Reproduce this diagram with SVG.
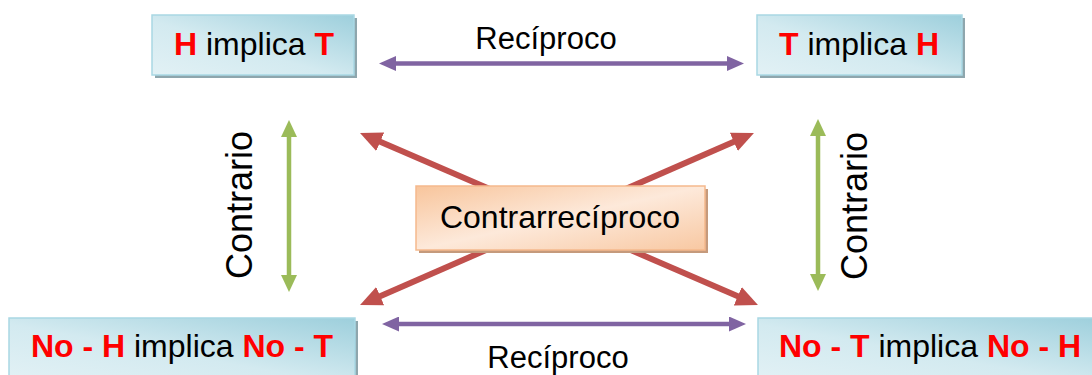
<svg xmlns="http://www.w3.org/2000/svg" width="1092" height="375" viewBox="0 0 1092 375">
<style>
.bx{fill:url(#teal);stroke:#a9d8e4;stroke-width:1.5}
.sh{fill:#8ea6ad}
.osh{fill:#c59a7c}
.ob{fill:url(#orange);stroke:#f5b98d;stroke-width:1.5}
.t{font-family:"Liberation Sans",Arial,sans-serif;font-size:32px;fill:#000}
.r{font-weight:bold;fill:#ff0000}
.lbl{font-family:"Liberation Sans",Arial,sans-serif;font-size:31px;fill:#000}
.cl{font-family:"Liberation Sans",Arial,sans-serif;font-size:32px;fill:#000}
.vl{font-family:"Liberation Sans",Arial,sans-serif;font-size:36px;fill:#000}
.red{stroke:#c0504d;stroke-width:6;fill:none}
.pur{stroke:#8064a2;stroke-width:4.5;fill:none}
.grn{stroke:#9bbb59;stroke-width:4.5;fill:none}
</style>
<defs>
<linearGradient id="teal" x1="0" y1="1" x2="1" y2="0">
<stop offset="0" stop-color="#e2f1f5"/>
<stop offset="0.45" stop-color="#d3eaf0"/>
<stop offset="1" stop-color="#9dcfdc"/>
</linearGradient>
<linearGradient id="orange" x1="0" y1="0" x2="1" y2="1">
<stop offset="0" stop-color="#f8c59c"/>
<stop offset="0.5" stop-color="#fde9da"/>
<stop offset="1" stop-color="#f8c8a2"/>
</linearGradient>
<marker id="mr" viewBox="0 0 22 20" markerUnits="userSpaceOnUse" markerWidth="22" markerHeight="20" refX="12" refY="10" orient="auto-start-reverse"><path d="M0,0 L22,10 L0,20 z" fill="#c0504d"/></marker>
<marker id="mp" viewBox="0 0 17 15" markerUnits="userSpaceOnUse" markerWidth="17" markerHeight="15" refX="9" refY="7.5" orient="auto-start-reverse"><path d="M0,0 L17,7.5 L0,15 z" fill="#8064a2"/></marker>
<marker id="mg" viewBox="0 0 17 16" markerUnits="userSpaceOnUse" markerWidth="17" markerHeight="16" refX="9" refY="8" orient="auto-start-reverse"><path d="M0,0 L17,8 L0,16 z" fill="#9bbb59"/></marker>
</defs>
<g id="connectors">
<line class="red" x1="369.2" y1="137" x2="748.8" y2="301" marker-start="url(#mr)" marker-end="url(#mr)"/>
<line class="red" x1="369.2" y1="301" x2="744.8" y2="137" marker-start="url(#mr)" marker-end="url(#mr)"/>
<line class="pur" x1="387" y1="63.5" x2="736" y2="63.5" marker-start="url(#mp)" marker-end="url(#mp)"/>
<line class="pur" x1="390" y1="324" x2="738" y2="324" marker-start="url(#mp)" marker-end="url(#mp)"/>
<line class="grn" x1="289" y1="128" x2="289" y2="284" marker-start="url(#mg)" marker-end="url(#mg)"/>
<line class="grn" x1="818" y1="127" x2="818" y2="283" marker-start="url(#mg)" marker-end="url(#mg)"/>
<text class="lbl" x="546" y="49" text-anchor="middle">Recíproco</text>
<text class="lbl" x="558" y="368" text-anchor="middle">Recíproco</text>
<text class="vl" transform="translate(252,205) rotate(-90)" text-anchor="middle">Contrario</text>
<text class="vl" transform="translate(867,206) rotate(-90)" text-anchor="middle">Contrario</text>
</g>
<g id="node-ht">
<rect class="sh" x="155" y="18" width="202" height="60"/>
<rect class="bx" x="152" y="15" width="202" height="60"/>
<text class="t" x="254" y="55" text-anchor="middle"><tspan class="r">H</tspan> implica <tspan class="r">T</tspan></text>
</g>
<g id="node-th">
<rect class="sh" x="760" y="18" width="205" height="60"/>
<rect class="bx" x="757" y="15" width="205" height="60"/>
<text class="t" x="859" y="55" text-anchor="middle"><tspan class="r">T</tspan> implica <tspan class="r">H</tspan></text>
</g>
<g id="node-nhnt">
<rect class="sh" x="12" y="321" width="346" height="62"/>
<rect class="bx" x="9" y="318" width="346" height="62"/>
<text class="t" x="182" y="357" text-anchor="middle"><tspan class="r">No - H</tspan> implica <tspan class="r">No - T</tspan></text>
</g>
<g id="node-ntnh">
<rect class="sh" x="761" y="321" width="346" height="62"/>
<rect class="bx" x="758" y="318" width="346" height="62"/>
<text class="t" x="930" y="357" text-anchor="middle"><tspan class="r">No - T</tspan> implica <tspan class="r">No - H</tspan></text>
</g>
<g id="node-contra">
<rect class="osh" x="419" y="189" width="289" height="64"/>
<rect class="ob" x="416" y="186" width="289" height="64"/>
<text class="cl" x="560" y="228" text-anchor="middle">Contrarrecíproco</text>
</g>
</svg>
